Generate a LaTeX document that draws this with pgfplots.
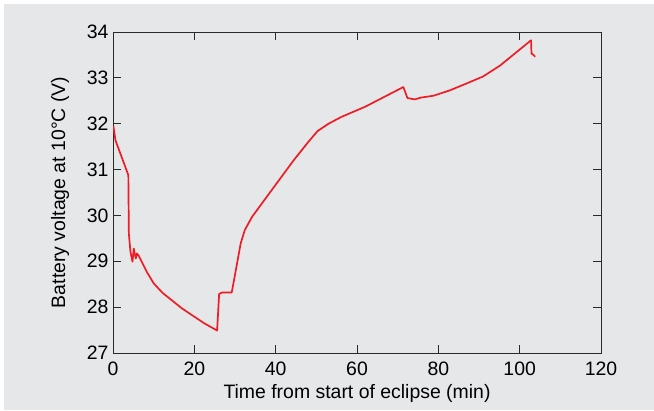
\documentclass[border=0pt]{standalone}
\usepackage{fontspec}
\setmainfont{Liberation Sans}
\usepackage{pgfplots}
\pgfplotsset{compat=1.18}
\definecolor{bg}{HTML}{E6E7E9}
\definecolor{curve}{HTML}{EE1C25}
\definecolor{axc}{HTML}{2A2A2A}
\begin{document}
\begin{tikzpicture}[x=1bp,y=1bp]
\useasboundingbox (0,0) rectangle (654,410);
\fill[white] (0,0) rectangle (654,410);
\fill[bg] (4,0) rectangle (654,406);
\begin{axis}[
  at={(113bp,57bp)}, anchor=south west,
  scale only axis, width=488bp, height=321bp,
  xmin=0, xmax=120, ymin=27, ymax=34,
  xtick={0,20,...,120}, ytick={27,...,34},
  tick align=inside, major tick length=8bp,
  axis line style={axc, line width=0.9bp},
  every tick/.style={axc, line width=0.9bp},
  tick label style={font=\fontsize{19.5}{21}\selectfont},
  label style={font=\fontsize{19.5}{21}\selectfont},
  /pgf/number format/assume math mode=true,
  xlabel={Time from start of eclipse (min)},
  ylabel={Battery voltage at 10°C (V)},
  xlabel style={yshift=-2bp},
  ylabel style={yshift=11bp},
  xticklabel style={yshift=-5bp},
  yticklabel style={xshift=-1bp},
]
\addplot[curve, line width=1.7bp, line join=round] coordinates {
(0.1,31.95) (0.6,31.64) (3.77,30.88) (3.9,29.6) (4.3,29.2) (4.8,28.99) (5.1,29.28)
(5.6,29.06) (5.9,29.17) (6.4,29.11) (7.0,29.0) (8.3,28.77) (10,28.52) (12.2,28.31)
(17,27.97) (22.4,27.65) (25.6,27.49) (26.1,28.29) (26.9,28.32) (29.2,28.32)
(31.4,29.39) (32.4,29.68) (34.2,29.97) (39,30.55) (44.4,31.2) (48,31.6) (50.3,31.84)
(53,32.0) (56.2,32.15) (62,32.37) (71.4,32.8) (72.4,32.56) (74.2,32.53) (75.7,32.57)
(78.8,32.61) (82.9,32.73) (87,32.88) (91,33.03) (95.2,33.27) (102.8,33.82)
(102.9,33.53) (103.4,33.5) (103.8,33.46)
};
\end{axis}
\end{tikzpicture}
\end{document}
